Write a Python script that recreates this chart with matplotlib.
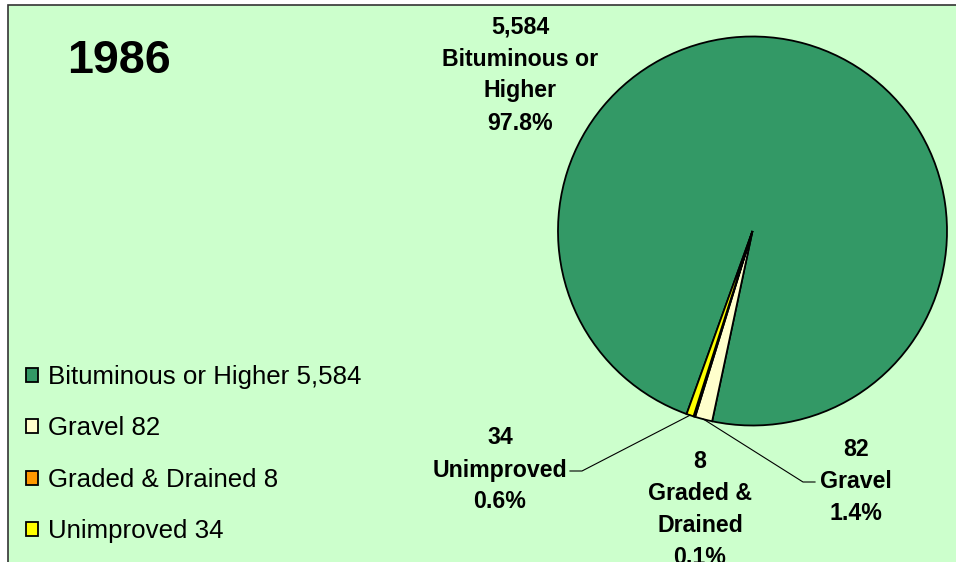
import matplotlib
matplotlib.use('Agg')
import matplotlib.pyplot as plt
from matplotlib.patches import Rectangle
import numpy as np

plt.rcParams['font.family'] = ['Liberation Sans', 'DejaVu Sans']

year = "1986"
categories = ["Bituminous or Higher", "Gravel", "Graded & Drained", "Unimproved"]
label_text = ["Bituminous or\nHigher", "Gravel", "Graded &\nDrained", "Unimproved"]
values = [5584, 82, 8, 34]
colors = ["#339966", "#FFFFCC", "#FF9900", "#FFFF00"]

W, H = 956, 562
fig = plt.figure(figsize=(W / 100, H / 100), dpi=100)
fig.patch.set_facecolor('white')
ax = fig.add_axes([0, 0, 1, 1])

# chart area frame
ax.add_patch(Rectangle((8.5, -20), W + 50, H - 4.5 + 20, facecolor='#CCFFCC',
                       edgecolor='#333333', lw=1.2, zorder=0))

cx, cy, r = 752.5, H - 231, 194.5
wedges, _ = ax.pie(values, colors=colors, startangle=-109.8, counterclock=False,
                   center=(cx, cy), radius=r,
                   wedgeprops=dict(edgecolor='black', linewidth=1.3))
ax.set_xlim(0, W)
ax.set_ylim(0, H)
ax.set_aspect('auto')
ax.axis('off')

total = sum(values)
pcts = [v / total * 100 for v in values]

# label layout: centre x and first baseline (pixels from top), line step
label_pos = [(520, 33.5), (856, 456), (700, 468.5), (500, 444.5)]
step = 32
for v, lbl, p, (lx, ly) in zip(values, label_text, pcts, label_pos):
    lines = [f"{v:,}"] + lbl.split("\n") + [f"{p:.1f}%"]
    for i, line in enumerate(lines):
        ax.text(lx, H - (ly + i * step), line, ha='center', va='baseline',
                fontsize=16.7, fontweight='bold', color='black', zorder=5)

# leader lines
def anchor(w):
    a = np.deg2rad((w.theta1 + w.theta2) / 2)
    return cx + r * np.cos(a), cy + r * np.sin(a)

ax_, ay_ = anchor(wedges[3])
ax.plot([ax_, 582, 570], [ay_, H - 471, H - 471], color='black', lw=0.8, zorder=4)
gx_, gy_ = anchor(wedges[1])
ax.plot([gx_, 803, 815], [gy_, H - 482, H - 482], color='black', lw=0.8, zorder=4)

# title
ax.text(119, H - 61, year, ha='center', va='center', fontsize=33.6,
        fontweight='bold', color='black')

# legend
leg = ax.legend(wedges, [f"{c} {v:,}" for c, v in zip(categories, values)],
                loc='upper left', bbox_to_anchor=(26, H - 365),
                bbox_transform=ax.transData, frameon=False, fontsize=18.6,
                handlelength=0.46, handleheight=0.46, handletextpad=0.38,
                labelspacing=1.06, borderpad=0, borderaxespad=0)

fig.savefig('out.png', dpi=100, facecolor='white')
